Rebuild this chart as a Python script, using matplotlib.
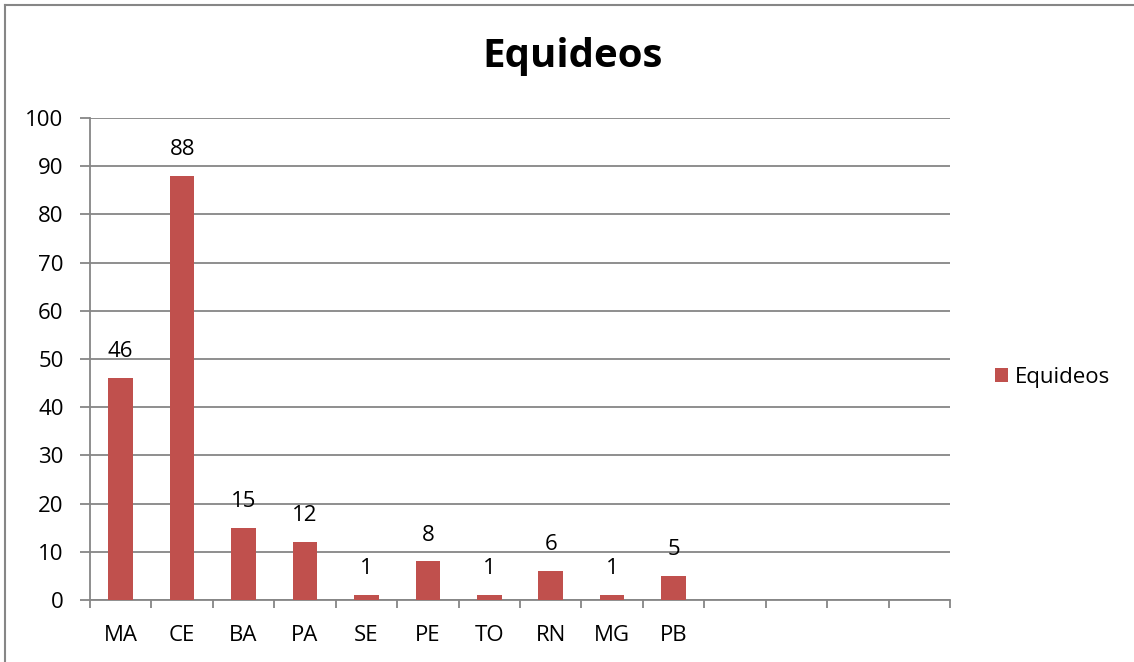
import matplotlib
matplotlib.use("Agg")
import matplotlib.pyplot as plt
from matplotlib.lines import Line2D

# Dados
estados = ["MA", "CE", "BA", "PA", "SE", "PE", "TO", "RN", "MG", "PB", "", "", "", ""]
equideos = [46, 88, 15, 12, 1, 8, 1, 6, 1, 5, None, None, None, None]

plt.rcParams['font.family'] = ['Open Sans', 'DejaVu Sans']

fig = plt.figure(figsize=(11.34, 6.62), dpi=100)
ax = fig.add_axes([90 / 1134, 62 / 662, 860 / 1134, 482 / 662])

cor = '#C0504D'
cinza = '#868686'

xs = [i for i, v in enumerate(equideos) if v is not None]
vals = [v for v in equideos if v is not None]
barras = ax.bar(xs, vals, width=0.4, color=cor, label='Equideos', zorder=3)
for x, v in zip(xs, vals):
    ax.text(x, v + 3.3, str(v), ha='center', va='bottom', fontsize=16, zorder=4)

ax.set_xlim(-0.5, len(estados) - 0.5)
ax.set_ylim(0, 100)
ax.set_yticks(range(0, 101, 10))
ax.yaxis.grid(True, color=cinza, linewidth=1.3, zorder=0)
ax.set_xticks(range(len(estados)))
ax.set_xticklabels(estados, fontsize=16)
ax.set_xticks([i - 0.5 for i in range(len(estados) + 1)], minor=True)
ax.tick_params(axis='x', which='major', length=0, pad=18)
ax.tick_params(axis='x', which='minor', length=6, width=1.3, color=cinza)
ax.tick_params(axis='y', length=7, width=1.3, color=cinza, labelsize=16, pad=12)

for lado in ['top', 'right']:
    ax.spines[lado].set_visible(False)
for lado in ['left', 'bottom']:
    ax.spines[lado].set_color(cinza)
    ax.spines[lado].set_linewidth(1.3)

fig.text(573 / 1134, 1 - 56 / 662, 'Equideos', ha='center', va='center',
         fontsize=29, fontweight='bold')

fig.legend(handles=[barras], loc='center left', bbox_to_anchor=(975 / 1134, 1 - 377 / 662),
           frameon=False, fontsize=16, handlelength=0.6, handleheight=0.6, handletextpad=0.3)

# moldura
fig.add_artist(Line2D([5 / 1134, 5 / 1134], [0, 1 - 5 / 662], color=cinza, linewidth=1.5))
fig.add_artist(Line2D([5 / 1134, 1], [1 - 5 / 662, 1 - 5 / 662], color=cinza, linewidth=1.5))

fig.savefig('out.png', dpi=100)
